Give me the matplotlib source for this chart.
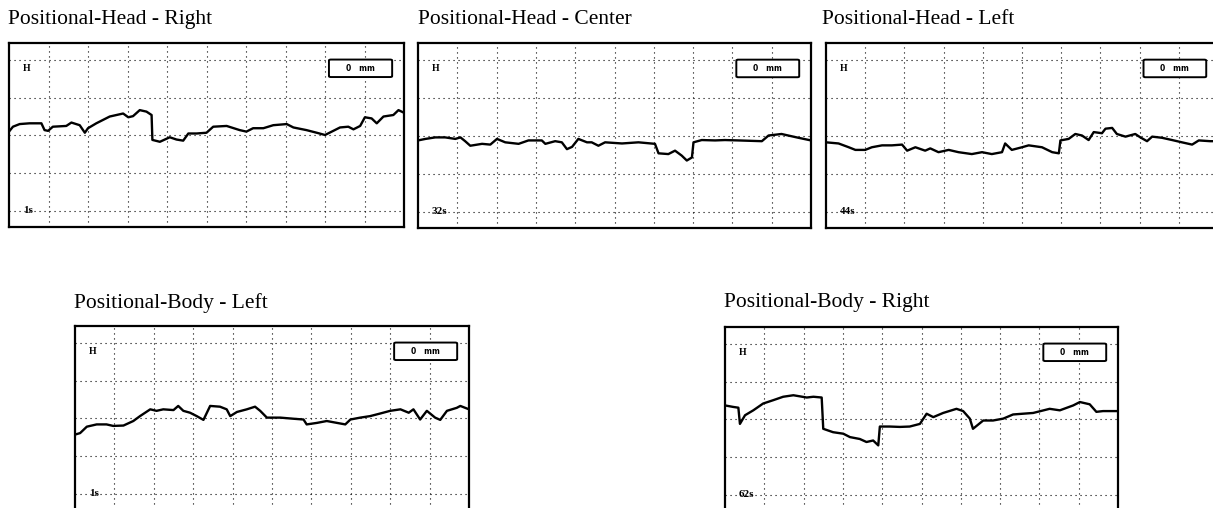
import matplotlib
matplotlib.use('Agg')
import matplotlib.pyplot as plt
from matplotlib.patches import FancyBboxPatch

# Titles and labels of the five recordings
titles = ['Positional-Head - Right', 'Positional-Head - Center', 'Positional-Head - Left',
          'Positional-Body - Left', 'Positional-Body - Right']
time_labels = ['1s', '32s', '44s', '1s', '62s']

# Traces (x: % of sweep, y: grid divisions from the lowest line)
head_right_x = [0, 1.0, 2.7, 5.2, 8.2, 9.0, 9.9, 11.1, 14.5, 15.8, 17.9, 19.2, 20.0, 22.1, 25.5,
                28.9, 30.2, 31.4, 33.1, 34.8, 36.1, 36.3, 38.2, 40.7, 42.4, 44.1, 45.4, 47.5, 50.0,
                51.7, 55.1, 58.4, 60.1, 61.8, 64.4, 66.9, 70.3, 72.0, 75.3, 77.9, 80.0, 82.1, 83.8,
                85.9, 87.2, 88.9, 90.1, 91.8, 93.1, 94.8, 97.3, 98.6, 100]
head_right_y = [2.10, 2.23, 2.30, 2.32, 2.32, 2.14, 2.12, 2.23, 2.25, 2.34, 2.27, 2.07, 2.19, 2.32, 2.50,
                2.58, 2.48, 2.51, 2.67, 2.63, 2.54, 1.88, 1.83, 1.95, 1.89, 1.86, 2.05, 2.05, 2.07,
                2.23, 2.25, 2.14, 2.10, 2.19, 2.19, 2.27, 2.30, 2.21, 2.14, 2.07, 2.01, 2.12, 2.21,
                2.23, 2.16, 2.25, 2.48, 2.45, 2.32, 2.50, 2.54, 2.67, 2.60]

head_center_x = [0, 1.9, 4.4, 6.9, 9.5, 10.8, 12.0, 13.3, 16.3, 18.4, 20.1, 22.2, 25.6, 28.1, 31.5,
                 32.4, 34.9, 36.6, 37.9, 39.2, 40.8, 43.0, 44.2, 45.9, 47.6, 51.9, 56.1, 60.3, 61.2,
                 63.7, 65.4, 67.1, 68.4, 69.7, 70.1, 72.2, 75.6, 78.1, 81.5, 87.5, 89.2, 92.5, 94.2,
                 96.8, 100]
head_center_y = [1.88, 1.92, 1.96, 1.96, 1.92, 1.96, 1.86, 1.74, 1.79, 1.77, 1.92, 1.83, 1.79, 1.88, 1.88,
                 1.79, 1.86, 1.83, 1.65, 1.71, 1.92, 1.83, 1.83, 1.74, 1.83, 1.80, 1.83, 1.79, 1.54,
                 1.52, 1.61, 1.48, 1.35, 1.43, 1.83, 1.89, 1.88, 1.89, 1.88, 1.86, 2.01, 2.05, 2.01,
                 1.95, 1.88]

head_left_x = [0, 3.2, 5.8, 7.5, 10.0, 11.7, 14.3, 16.8, 19.4, 20.7, 22.8, 25.3, 26.6, 28.7, 31.3,
               33.8, 37.2, 39.8, 42.3, 44.9, 45.7, 47.4, 50.0, 51.7, 55.1, 57.7, 59.4, 59.8, 61.9,
               63.6, 65.3, 67.0, 68.3, 70.4, 71.3, 73.0, 74.2, 76.4, 78.9, 80.2, 81.9, 83.2, 85.7,
               88.3, 90.8, 93.4, 95.1, 98.0, 100]
head_left_y = [1.83, 1.80, 1.70, 1.63, 1.63, 1.70, 1.75, 1.75, 1.77, 1.61, 1.70, 1.61, 1.67, 1.57, 1.63,
               1.57, 1.52, 1.57, 1.52, 1.57, 1.80, 1.63, 1.70, 1.75, 1.70, 1.57, 1.54, 1.88, 1.92,
               2.05, 2.01, 1.89, 2.10, 2.07, 2.19, 2.21, 2.05, 1.98, 2.05, 1.96, 1.86, 1.98, 1.95,
               1.89, 1.83, 1.77, 1.88, 1.86, 1.86]

body_left_x = [0, 1.3, 3.0, 5.5, 8.0, 9.7, 12.3, 14.8, 16.5, 19.1, 20.7, 22.4, 25.0, 26.2, 27.5,
               29.2, 30.9, 32.6, 34.3, 36.8, 38.5, 39.4, 41.1, 43.6, 45.7, 47.0, 48.7, 52.1, 55.5,
               58.0, 58.8, 61.4, 63.9, 66.5, 68.6, 69.9, 72.4, 74.9, 77.5, 80.0, 82.6, 84.7, 85.9,
               87.6, 89.3, 91.4, 92.7, 94.4, 96.9, 97.8, 100]
body_left_y = [1.57, 1.61, 1.78, 1.84, 1.84, 1.80, 1.81, 1.93, 2.06, 2.24, 2.20, 2.24, 2.22, 2.33, 2.20,
               2.15, 2.06, 1.96, 2.33, 2.31, 2.24, 2.06, 2.17, 2.24, 2.31, 2.20, 2.02, 2.02, 1.99,
               1.97, 1.84, 1.88, 1.93, 1.88, 1.84, 1.97, 2.02, 2.06, 2.13, 2.20, 2.24, 2.15, 2.24,
               1.97, 2.20, 2.02, 1.96, 2.20, 2.28, 2.33, 2.24]

body_right_x = [0, 2.1, 3.4, 3.8, 5.1, 7.2, 9.7, 12.3, 14.8, 17.4, 19.1, 20.8, 22.5, 24.6, 25.0,
                27.5, 30.1, 31.8, 34.3, 36.0, 37.7, 39.0, 39.4, 41.9, 44.5, 47.0, 49.6, 51.3, 53.0,
                55.5, 58.9, 60.6, 62.3, 63.1, 65.7, 68.2, 70.8, 73.3, 75.8, 78.4, 82.6, 85.2, 88.6,
                90.3, 92.8, 94.5, 96.2, 100]
body_right_y = [2.37, 2.33, 2.31, 1.88, 2.11, 2.24, 2.42, 2.51, 2.60, 2.64, 2.61, 2.58, 2.60, 2.58, 1.75,
                1.66, 1.62, 1.53, 1.48, 1.40, 1.44, 1.31, 1.81, 1.81, 1.80, 1.81, 1.88, 2.15, 2.06,
                2.17, 2.28, 2.22, 2.02, 1.75, 1.97, 1.97, 2.02, 2.13, 2.15, 2.17, 2.28, 2.24, 2.37,
                2.46, 2.40, 2.20, 2.22, 2.22]

traces = [(head_right_x, head_right_y), (head_center_x, head_center_y), (head_left_x, head_left_y),
          (body_left_x, body_left_y), (body_right_x, body_right_y)]

W, H = 1213, 508
# panel boxes in pixels: left, right, top, bottom
boxes = [(9, 404, 43, 227), (418, 811, 43, 228), (826, 1218, 43, 228),
         (75, 469, 326, 510), (725, 1118, 327, 511)]
title_pos = [(8, 24), (418, 24), (822, 24), (74, 308), (724, 307)]

fig = plt.figure(figsize=(W / 100, H / 100), dpi=100)
serif = ['Liberation Serif', 'DejaVu Serif']

for i, (x, y) in enumerate(traces):
    l, r, t, b = boxes[i]
    ax = fig.add_axes([l / W, 1 - b / H, (r - l) / W, (b - t) / H])
    ax.set_xlim(0, 100)
    ax.set_ylim(-0.43, 4.45)
    for gx in range(10, 100, 10):
        ax.axvline(gx, color='black', lw=0.8, linestyle=(0, (1, 3.5)), zorder=1)
    for gy in range(5):
        ax.axhline(gy, color='black', lw=0.8, linestyle=(0, (1, 3.5)), zorder=1)
    ax.plot(x, y, color='black', lw=1.7, zorder=3)
    ax.set_xticks([])
    ax.set_yticks([])
    for s in ax.spines.values():
        s.set_linewidth(1.6)
        s.set_color('black')

    ax.text(0.045, 0.86, 'H', transform=ax.transAxes, fontsize=7, fontweight='bold',
            ha='center', va='center', family=serif)
    ax.text(0.035, 0.09, time_labels[i], transform=ax.transAxes, fontsize=8, fontweight='bold',
            ha='left', va='center', family=serif)
    # small scale box in the upper right corner
    ax.add_patch(FancyBboxPatch((0.815, 0.82), 0.15, 0.085, boxstyle='round,pad=0.005',
                                transform=ax.transAxes, fill=True, facecolor='white',
                                edgecolor='black', lw=1.4, zorder=4))
    ax.text(0.89, 0.862, '0   mm', transform=ax.transAxes, fontsize=5.5, fontweight='bold',
            ha='center', va='center', zorder=5)

    tx, ty = title_pos[i]
    fig.text(tx / W, 1 - ty / H, titles[i], fontsize=15.5, family=serif,
             ha='left', va='baseline')

fig.savefig('out.png', dpi=100)
